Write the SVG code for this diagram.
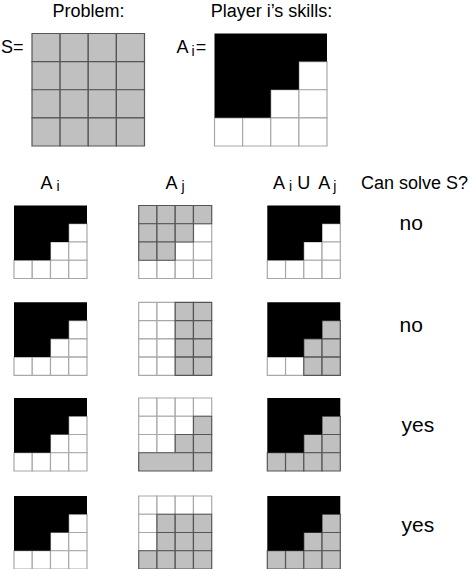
<svg xmlns="http://www.w3.org/2000/svg" xmlns:xlink="http://www.w3.org/1999/xlink" width="474" height="569" viewBox="0 0 474 569">
<style>
text{font-family:"Liberation Sans",Arial,Helvetica,sans-serif;fill:#000}
.lbl{font-size:18px}
.ans{font-size:21px}
.sub{font-size:14px}
rect,polygon{vector-effect:non-scaling-stroke}
.w{fill:#fff;stroke:#a8a8a8;stroke-width:1.2}
.g{fill:#c0c0c0;stroke:#555;stroke-width:1.2}
.b{fill:#000;stroke:none}
</style>
<defs>
<g id="pGray">
<rect class="g" x="0" y="0" width="18.25" height="18.25"/><rect class="g" x="18.25" y="0" width="18.25" height="18.25"/><rect class="g" x="36.5" y="0" width="18.25" height="18.25"/><rect class="g" x="54.75" y="0" width="18.25" height="18.25"/>
<rect class="g" x="0" y="18.25" width="18.25" height="18.25"/><rect class="g" x="18.25" y="18.25" width="18.25" height="18.25"/><rect class="g" x="36.5" y="18.25" width="18.25" height="18.25"/><rect class="g" x="54.75" y="18.25" width="18.25" height="18.25"/>
<rect class="g" x="0" y="36.5" width="18.25" height="18.25"/><rect class="g" x="18.25" y="36.5" width="18.25" height="18.25"/><rect class="g" x="36.5" y="36.5" width="18.25" height="18.25"/><rect class="g" x="54.75" y="36.5" width="18.25" height="18.25"/>
<rect class="g" x="0" y="54.75" width="18.25" height="18.25"/><rect class="g" x="18.25" y="54.75" width="18.25" height="18.25"/><rect class="g" x="36.5" y="54.75" width="18.25" height="18.25"/><rect class="g" x="54.75" y="54.75" width="18.25" height="18.25"/>
</g>
<polygon id="blk" class="b" points="0,0 73,0 73,18.25 54.75,18.25 54.75,36.5 36.5,36.5 36.5,54.75 0,54.75"/>
<g id="pAi">
<rect class="w" x="54.75" y="18.25" width="18.25" height="18.25"/>
<rect class="w" x="36.5" y="36.5" width="18.25" height="18.25"/><rect class="w" x="54.75" y="36.5" width="18.25" height="18.25"/>
<rect class="w" x="0" y="54.75" width="18.25" height="18.25"/><rect class="w" x="18.25" y="54.75" width="18.25" height="18.25"/><rect class="w" x="36.5" y="54.75" width="18.25" height="18.25"/><rect class="w" x="54.75" y="54.75" width="18.25" height="18.25"/>
<use xlink:href="#blk"/>
</g>
<g id="pAj1">
<rect class="w" x="54.75" y="18.25" width="18.25" height="18.25"/>
<rect class="w" x="36.5" y="36.5" width="18.25" height="18.25"/><rect class="w" x="54.75" y="36.5" width="18.25" height="18.25"/>
<rect class="w" x="0" y="54.75" width="18.25" height="18.25"/><rect class="w" x="18.25" y="54.75" width="18.25" height="18.25"/><rect class="w" x="36.5" y="54.75" width="18.25" height="18.25"/><rect class="w" x="54.75" y="54.75" width="18.25" height="18.25"/>
<rect class="g" x="0" y="0" width="18.25" height="18.25"/><rect class="g" x="18.25" y="0" width="18.25" height="18.25"/><rect class="g" x="36.5" y="0" width="18.25" height="18.25"/><rect class="g" x="54.75" y="0" width="18.25" height="18.25"/>
<rect class="g" x="0" y="18.25" width="18.25" height="18.25"/><rect class="g" x="18.25" y="18.25" width="18.25" height="18.25"/><rect class="g" x="36.5" y="18.25" width="18.25" height="18.25"/>
<rect class="g" x="0" y="36.5" width="18.25" height="18.25"/><rect class="g" x="18.25" y="36.5" width="18.25" height="18.25"/>
</g>
<g id="pAj2">
<rect class="w" x="0" y="0" width="18.25" height="18.25"/><rect class="w" x="18.25" y="0" width="18.25" height="18.25"/>
<rect class="w" x="0" y="18.25" width="18.25" height="18.25"/><rect class="w" x="18.25" y="18.25" width="18.25" height="18.25"/>
<rect class="w" x="0" y="36.5" width="18.25" height="18.25"/><rect class="w" x="18.25" y="36.5" width="18.25" height="18.25"/>
<rect class="w" x="0" y="54.75" width="18.25" height="18.25"/><rect class="w" x="18.25" y="54.75" width="18.25" height="18.25"/>
<rect class="g" x="36.5" y="0" width="18.25" height="18.25"/><rect class="g" x="54.75" y="0" width="18.25" height="18.25"/>
<rect class="g" x="36.5" y="18.25" width="18.25" height="18.25"/><rect class="g" x="54.75" y="18.25" width="18.25" height="18.25"/>
<rect class="g" x="36.5" y="36.5" width="18.25" height="18.25"/><rect class="g" x="54.75" y="36.5" width="18.25" height="18.25"/>
<rect class="g" x="36.5" y="54.75" width="18.25" height="18.25"/><rect class="g" x="54.75" y="54.75" width="18.25" height="18.25"/>
</g>
<g id="pAj3">
<rect class="w" x="0" y="0" width="18.25" height="18.25"/><rect class="w" x="18.25" y="0" width="18.25" height="18.25"/><rect class="w" x="36.5" y="0" width="18.25" height="18.25"/><rect class="w" x="54.75" y="0" width="18.25" height="18.25"/>
<rect class="w" x="0" y="18.25" width="18.25" height="18.25"/><rect class="w" x="18.25" y="18.25" width="18.25" height="18.25"/><rect class="w" x="36.5" y="18.25" width="18.25" height="18.25"/>
<rect class="w" x="0" y="36.5" width="18.25" height="18.25"/><rect class="w" x="18.25" y="36.5" width="18.25" height="18.25"/>
<rect class="g" x="54.75" y="18.25" width="18.25" height="18.25"/>
<rect class="g" x="36.5" y="36.5" width="18.25" height="18.25"/><rect class="g" x="54.75" y="36.5" width="18.25" height="18.25"/>
<rect class="g" x="0" y="54.75" width="54.75" height="18.25"/><rect class="g" x="54.75" y="54.75" width="18.25" height="18.25"/>
</g>
<g id="pAj4">
<rect class="w" x="0" y="0" width="18.25" height="18.25"/><rect class="w" x="18.25" y="0" width="18.25" height="18.25"/><rect class="w" x="36.5" y="0" width="18.25" height="18.25"/><rect class="w" x="54.75" y="0" width="18.25" height="18.25"/>
<rect class="w" x="0" y="18.25" width="18.25" height="18.25"/>
<rect class="w" x="0" y="36.5" width="18.25" height="18.25"/>
<rect class="g" x="18.25" y="18.25" width="18.25" height="18.25"/><rect class="g" x="36.5" y="18.25" width="18.25" height="18.25"/><rect class="g" x="54.75" y="18.25" width="18.25" height="18.25"/>
<rect class="g" x="18.25" y="36.5" width="18.25" height="18.25"/><rect class="g" x="36.5" y="36.5" width="18.25" height="18.25"/><rect class="g" x="54.75" y="36.5" width="18.25" height="18.25"/>
<rect class="g" x="0" y="54.75" width="18.25" height="18.25"/><rect class="g" x="18.25" y="54.75" width="18.25" height="18.25"/><rect class="g" x="36.5" y="54.75" width="18.25" height="18.25"/><rect class="g" x="54.75" y="54.75" width="18.25" height="18.25"/>
</g>
<g id="pU2">
<rect class="w" x="0" y="54.75" width="18.25" height="18.25"/><rect class="w" x="18.25" y="54.75" width="18.25" height="18.25"/>
<rect class="g" x="54.75" y="18.25" width="18.25" height="18.25"/>
<rect class="g" x="36.5" y="36.5" width="18.25" height="18.25"/><rect class="g" x="54.75" y="36.5" width="18.25" height="18.25"/>
<rect class="g" x="36.5" y="54.75" width="18.25" height="18.25"/><rect class="g" x="54.75" y="54.75" width="18.25" height="18.25"/>
<use xlink:href="#blk"/>
</g>
<g id="pU3">
<rect class="g" x="54.75" y="18.25" width="18.25" height="18.25"/>
<rect class="g" x="36.5" y="36.5" width="18.25" height="18.25"/><rect class="g" x="54.75" y="36.5" width="18.25" height="18.25"/>
<rect class="g" x="0" y="54.75" width="18.25" height="18.25"/><rect class="g" x="18.25" y="54.75" width="18.25" height="18.25"/><rect class="g" x="36.5" y="54.75" width="18.25" height="18.25"/><rect class="g" x="54.75" y="54.75" width="18.25" height="18.25"/>
<use xlink:href="#blk"/>
</g>
</defs>

<g id="header">
<text class="lbl" x="88.5" y="17" text-anchor="middle">Problem:</text>
<text class="lbl" x="271.5" y="17" text-anchor="middle">Player i’s skills:</text>
</g>

<g id="problem-S">
<text class="lbl" x="1" y="53">S=</text>
<use xlink:href="#pGray" transform="translate(32,33.5) scale(1.541)"/>
</g>

<g id="player-Ai">
<text class="lbl" x="176.5" y="53">A<tspan class="sub" dx="3" dy="3">i</tspan><tspan dx="1" dy="-3">=</tspan></text>
<use xlink:href="#pAi" transform="translate(214.5,33.5) scale(1.541)"/>
</g>

<g id="column-labels">
<text class="lbl" x="40.5" y="189">A<tspan class="sub" dx="4" dy="2">i</tspan></text>
<text class="lbl" x="165.5" y="189">A<tspan class="sub" dx="4" dy="2">j</tspan></text>
<text class="lbl" x="273" y="189">A<tspan class="sub" dx="4" dy="2">i</tspan><tspan dx="5" dy="-2">U</tspan><tspan dx="8">A</tspan><tspan class="sub" dx="3" dy="2">j</tspan></text>
<text class="lbl" x="361" y="189">Can solve S?</text>
</g>

<g id="row1">
<use xlink:href="#pAi" transform="translate(14,205.5)"/>
<use xlink:href="#pAj1" transform="translate(138.7,205.5)"/>
<use xlink:href="#pAi" transform="translate(267.3,205.5)"/>
<text class="ans" x="399.5" y="230">no</text>
</g>
<g id="row2">
<use xlink:href="#pAi" transform="translate(14,302.3)"/>
<use xlink:href="#pAj2" transform="translate(138.7,302.3)"/>
<use xlink:href="#pU2" transform="translate(267.3,302.3)"/>
<text class="ans" x="399.5" y="332">no</text>
</g>
<g id="row3">
<use xlink:href="#pAi" transform="translate(14,398)"/>
<use xlink:href="#pAj3" transform="translate(138.7,398)"/>
<use xlink:href="#pU3" transform="translate(267.3,398)"/>
<text class="ans" x="401.5" y="431.5">yes</text>
</g>
<g id="row4">
<use xlink:href="#pAi" transform="translate(14,496)"/>
<use xlink:href="#pAj4" transform="translate(138.7,496)"/>
<use xlink:href="#pU3" transform="translate(267.3,496)"/>
<text class="ans" x="401.5" y="532">yes</text>
</g>
<g id="connectors"/>
</svg>
